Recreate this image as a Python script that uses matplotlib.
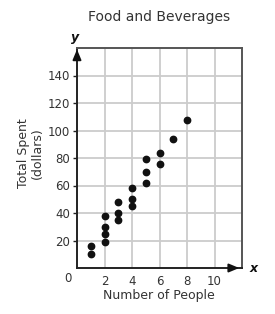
import matplotlib
matplotlib.use("Agg")
import matplotlib.pyplot as plt

people = [1, 1, 2, 2, 2, 2, 3, 3, 3, 4, 4, 4, 5, 5, 5, 6, 6, 7, 8]
spent = [16, 10, 38, 30, 25, 19, 48, 40, 35, 58, 50, 45, 79, 70, 62, 84, 76, 94, 108]
x_ticks = [2, 4, 6, 8, 10]
y_ticks = [20, 40, 60, 80, 100, 120, 140]

plt.rcParams['font.family'] = ['DejaVu Sans']
fig = plt.figure(figsize=(2.75, 3.14), dpi=100)
ax = fig.add_axes([77/275, 1-268/314, 165/275, 220/314])
ax.set_xlim(0, 12)
ax.set_ylim(0, 160)

txt = '#333333'
for xv in range(2, 12, 2):
    ax.axvline(xv, color='#cccccc', lw=1.3, zorder=0)
for yv in range(20, 160, 20):
    ax.axhline(yv, color='#cccccc', lw=1.3, zorder=0)

for s in ['top', 'right']:
    ax.spines[s].set_color('#555555')
    ax.spines[s].set_linewidth(1.4)
for s in ['left', 'bottom']:
    ax.spines[s].set_color('#222222')
    ax.spines[s].set_linewidth(1.4)

ax.scatter(people, spent, s=21, color='#111111', zorder=3, clip_on=False)

ax.set_xticks(x_ticks)
ax.set_xticklabels([str(v) for v in x_ticks], fontsize=8.5, color=txt)
ax.set_yticks(y_ticks)
ax.set_yticklabels([str(v) for v in y_ticks], fontsize=8.5, color=txt)
ax.tick_params(axis='x', length=0, pad=5)
ax.tick_params(axis='y', length=3, width=1, color='#222222', pad=2)

# axis arrows
ax.annotate('', xy=(0, 161), xytext=(0, 150),
            arrowprops=dict(arrowstyle='-|>,head_length=0.6,head_width=0.25', color='#111111', lw=1.4),
            annotation_clip=False)
ax.annotate('', xy=(12, 0), xytext=(11, 0),
            arrowprops=dict(arrowstyle='-|>,head_length=0.6,head_width=0.25', color='#111111', lw=1.4),
            annotation_clip=False)

fig.text(68/275, 1-278/314, '0', fontsize=8.5, color=txt, ha='center', va='center')
fig.text(75/275, 1-37/314, 'y', fontsize=9, fontweight='bold', style='italic', color='#111111', ha='center', va='center')
fig.text(254/275, 1-269/314, 'x', fontsize=9, fontweight='bold', style='italic', color='#111111', ha='center', va='center')

fig.text(159/275, 1-17/314, 'Food and Beverages', fontsize=10, color=txt, ha='center', va='center')
fig.text(159/275, 1-296/314, 'Number of People', fontsize=9, color=txt, ha='center', va='center')
fig.text(30/275, 1-153/314, 'Total Spent\n(dollars)', fontsize=9, color=txt, ha='center', va='center',
         rotation=90, linespacing=1.1)

fig.savefig('out.png', dpi=100)
